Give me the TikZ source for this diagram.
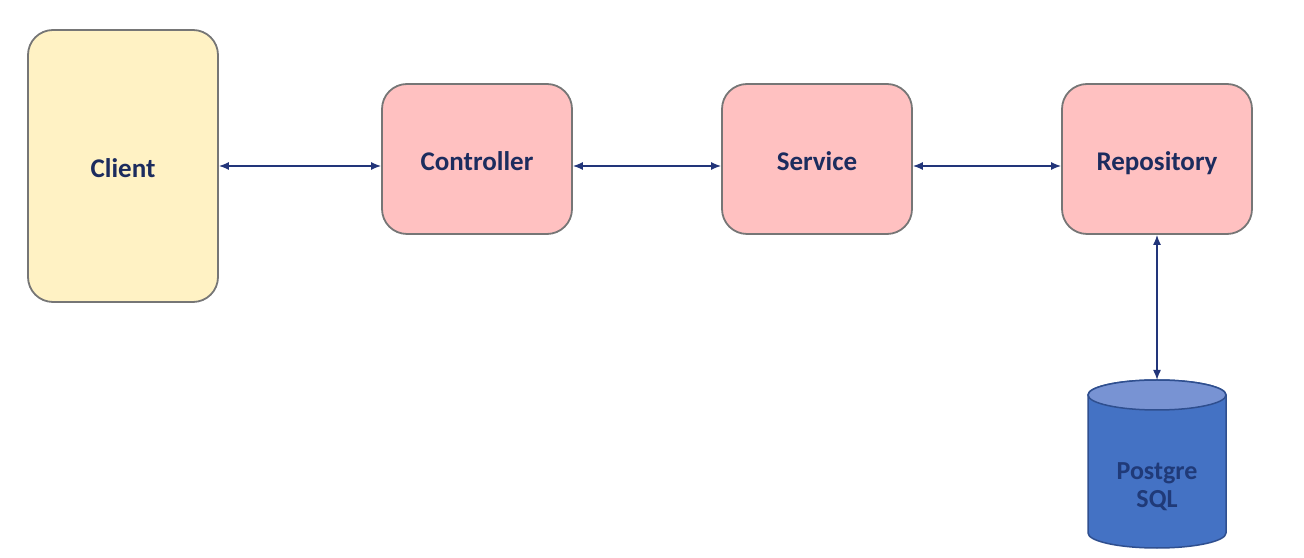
\documentclass[tikz,border=0pt]{standalone}
\usepackage{fontspec}
\setmainfont{Carlito}
\usetikzlibrary{arrows.meta}
\definecolor{clientfill}{HTML}{FFF2C4}
\definecolor{pinkfill}{HTML}{FFC1C1}
\definecolor{boxborder}{HTML}{767676}
\definecolor{navy}{HTML}{1C2C5E}
\definecolor{arrowcol}{HTML}{22357A}
\definecolor{dbbody}{HTML}{4472C4}
\definecolor{dbtopc}{HTML}{7893D3}
\definecolor{dbborder}{HTML}{2F4F8F}
\definecolor{dbtext}{HTML}{203A78}
\begin{document}
\begin{tikzpicture}[x=1pt,y=1pt,
  box/.style={draw=boxborder, line width=1.8pt, rounded corners=25pt, minimum width=190pt, inner sep=0pt,
    font=\fontsize{27}{32}\selectfont\bfseries, text=navy, text height=25pt, text depth=2pt},
  layer/.style={box, fill=pinkfill, minimum height=150pt},
  link/.style={draw=arrowcol, line width=1.5pt, {Latex[length=10pt,width=8pt]}-{Latex[length=10pt,width=8pt]}},
  dblabel/.style={font=\fontsize{26}{30}\selectfont\bfseries, text=dbtext, align=center}]
\useasboundingbox (0,0) rectangle (1304,557);
\node[box, fill=clientfill, minimum height=272pt] (client) at (123,391) {Client};
\node[layer] (ctrl) at (477,398) {Controller};
\node[layer] (srv) at (817,398) {Service};
\node[layer] (repo) at (1157,398) {Repository};
% database cylinder
\draw[dbborder, line width=1.5pt, fill=dbbody] (1088,162) -- (1088,24) arc[start angle=180, end angle=360, x radius=69, y radius=15] -- (1226,162) arc[start angle=0, end angle=180, x radius=69, y radius=15] -- cycle;
\draw[dbborder, line width=1.5pt, fill=dbtopc] (1157,162) ellipse[x radius=69, y radius=15];
\coordinate (dbtop) at (1157,177);
\node[dblabel] (db) at (1157,70) {Postgre\\[-2pt]SQL};
% connectors
\draw[link] (client.east) -- (client.east -| ctrl.west);
\draw[link] (ctrl.east |- client.east) -- (srv.west |- client.east);
\draw[link] (srv.east |- client.east) -- (repo.west |- client.east);
\draw[link] (repo.south) -- (dbtop);
\end{tikzpicture}
\end{document}
